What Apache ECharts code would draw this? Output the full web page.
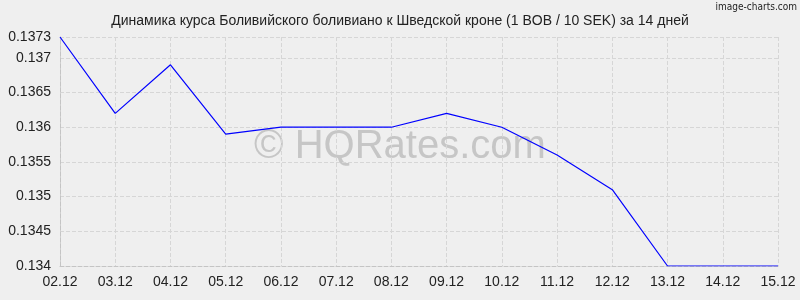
<!DOCTYPE html>
<html><head><meta charset="utf-8">
<script src="https://cdn.jsdelivr.net/npm/echarts@6/dist/echarts.min.js"></script>
<style>html,body{margin:0;padding:0;background:#efefef}#c{width:800px;height:300px}</style>
</head><body><div id="c"></div>
<script>
var titleText = 'Динамика курса Боливийского боливиано к Шведской кроне (1 BOB / 10 SEK) за 14 дней';
var categories = ['02.12','03.12','04.12','05.12','06.12','07.12','08.12','09.12','10.12','11.12','12.12','13.12','14.12','15.12'];
var rates = [0.1373,0.1362,0.1369,0.1359,0.1360,0.1360,0.1360,0.1362,0.1360,0.1356,0.1351,0.1340,0.1340,0.1340];
var yMin = 0.134, yMax = 0.1373, yStep = 0.0005;

var chart = echarts.init(document.getElementById('c'), null, {renderer:'canvas'});
var font = '"Liberation Sans", Arial, sans-serif';
chart.setOption({
  backgroundColor: '#efefef',
  animation: false,
  title: {
    text: titleText, left: 'center', top: 9,
    textStyle: {fontFamily: font, fontSize: 14, fontWeight: 'normal', color: '#222'}
  },
  graphic: [
    {type:'text', left: 'center', top: 127, z: 0, style:{text:'© HQRates.com', font:'40px "Liberation Sans", Arial, sans-serif', fill:'#c6c6c6'}},
    {type:'text', right: 3, top: 2, style:{text:'image-charts.com', font:'10px "DejaVu Sans Condensed", "Liberation Sans Narrow", sans-serif', fill:'#222'}}
  ],
  grid: {left: 60, right: 22, top: 37, bottom: 34},
  xAxis: {
    type: 'category', data: categories, boundaryGap: false,
    axisLine: {show: true, lineStyle: {color: '#c4c4c4', type: 'dashed'}},
    axisTick: {show: false},
    axisLabel: {fontFamily: font, fontSize: 14, color: '#222', margin: 9},
    splitLine: {show: true, lineStyle: {color: '#d6d6d6', type: 'dashed'}}
  },
  yAxis: {
    type: 'value', min: yMin, max: yMax, interval: yStep,
    axisLine: {show: true, lineStyle: {color: '#c4c4c4', type: 'dashed'}},
    axisTick: {show: false},
    axisLabel: {fontFamily: font, fontSize: 14, color: '#222', margin: 9, showMaxLabel: true,
      formatter: function(v){ return String(parseFloat(v.toFixed(6))); }},
    splitLine: {show: true, lineStyle: {color: '#d6d6d6', type: 'dashed'}}
  },
  series: [{
    type: 'line', data: rates, symbol: 'none', z: 5,
    lineStyle: {color: '#0000ff', width: 1.2}
  }]
});
</script></body></html>
